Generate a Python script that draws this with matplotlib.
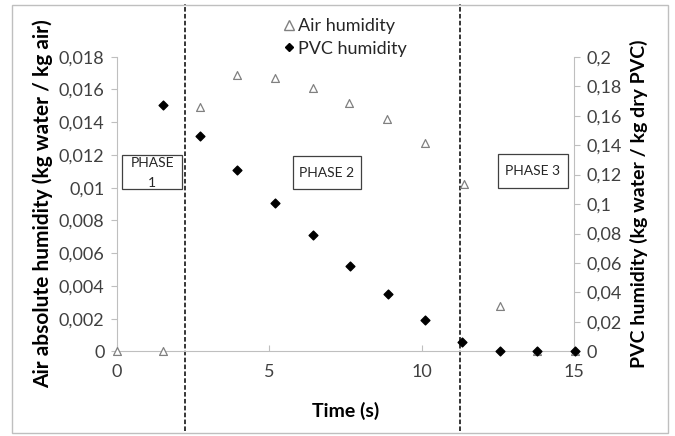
import matplotlib.pyplot as plt
from matplotlib.patches import Rectangle
from matplotlib.lines import Line2D

plt.rcParams['font.family'] = ['Lato', 'DejaVu Sans']

# data
time_air = [0, 1.5, 2.73, 3.94, 5.2, 6.42, 7.63, 8.87, 10.1, 11.38, 12.58, 13.8, 15.03]
air_hum = [0, 0, 0.0149, 0.0169, 0.0167, 0.0161, 0.0152, 0.0142, 0.0127, 0.0102, 0.0028, 0, 0]
time_pvc = [1.52, 2.73, 3.94, 5.2, 6.42, 7.66, 8.89, 10.1, 11.33, 12.58, 13.8, 15.03]
pvc_hum = [0.167, 0.146, 0.123, 0.101, 0.079, 0.058, 0.039, 0.021, 0.0066, 0, 0.0005, 0]
phase_limits = [2.24, 11.26]
left_ticks = [0, 0.002, 0.004, 0.006, 0.008, 0.01, 0.012, 0.014, 0.016, 0.018]
right_ticks = [0, 0.02, 0.04, 0.06, 0.08, 0.1, 0.12, 0.14, 0.16, 0.18, 0.2]
x_ticks = [0, 5, 10, 15]


def comma(v):
    return f"{v:g}".replace('.', ',')


fig = plt.figure(figsize=(6.75, 4.36), dpi=100)
ax = fig.add_axes([0.1733, 0.194, 0.677, 0.676])
ax2 = ax.twinx()

grey = '#bfbfbf'
txt = '#404040'

ax.scatter(time_air, air_hum, marker='^', s=32, facecolors='white',
           edgecolors='#808080', linewidths=0.9, clip_on=False, zorder=3)
ax2.scatter(time_pvc, pvc_hum, marker='D', s=20, color='black', clip_on=False, zorder=4)

ax.set_xlim(0, 15)
ax.set_ylim(0, 0.018)
ax2.set_ylim(0, 0.2)

ax.set_xticks(x_ticks)
ax.set_xticklabels([str(t) for t in x_ticks])
ax.set_yticks(left_ticks)
ax.set_yticklabels([comma(v) for v in left_ticks])
ax2.set_yticks(right_ticks)
ax2.set_yticklabels([comma(v) for v in right_ticks])

for a in (ax, ax2):
    for s in a.spines.values():
        s.set_color(grey)
    a.spines['top'].set_visible(False)
    a.tick_params(colors=grey, labelcolor=txt, labelsize=13, length=4, pad=5)
ax2.spines['left'].set_visible(False)
ax2.spines['bottom'].set_visible(False)
ax.spines['right'].set_visible(False)
ax.tick_params(axis='x', direction='in', pad=9)

ax.set_xlabel('Time (s)', fontsize=14, fontweight='bold', labelpad=16)
ax.set_ylabel('Air absolute humidity (kg water / kg air)', fontsize=15, fontweight='bold', labelpad=4)
ax2.set_ylabel('PVC humidity (kg water / kg dry PVC)', fontsize=14, fontweight='bold', labelpad=6)

# phase separators spanning the whole frame
for xl in phase_limits:
    ax.axvline(xl, ymin=-0.27, ymax=1.18, color='black', linestyle=(0, (3, 1.5)),
               linewidth=1.1, clip_on=False, zorder=2)

# phase boxes
box_kw = dict(fill=True, fc='white', ec='#404040', lw=0.9, zorder=5)
ax.add_patch(Rectangle((0.16, 0.00992), 1.97, 0.00208, **box_kw))
ax.add_patch(Rectangle((5.78, 0.00992), 2.23, 0.00201, **box_kw))
ax.add_patch(Rectangle((12.50, 0.00998), 2.30, 0.00208, **box_kw))
ax.text(1.15, 0.01150, 'PHASE', ha='center', va='center', fontsize=10, color='#262626', zorder=6)
ax.text(1.15, 0.01030, '1', ha='center', va='center', fontsize=10, color='#262626', zorder=6)
ax.text(6.88, 0.01092, 'PHASE 2', ha='center', va='center', fontsize=10, color='#262626', zorder=6)
ax.text(13.63, 0.01100, 'PHASE 3', ha='center', va='center', fontsize=10, color='#262626', zorder=6)

handles = [
    Line2D([], [], marker='^', linestyle='none', markersize=6.5, markerfacecolor='white',
           markeredgecolor='#808080', label='Air humidity'),
    Line2D([], [], marker='D', linestyle='none', markersize=4.5, color='black', label='PVC humidity'),
]
fig.legend(handles=handles, loc='upper left', bbox_to_anchor=(0.39, 0.995), frameon=False,
           fontsize=13, handletextpad=0.05, handlelength=1.0, labelspacing=0.35,
           labelcolor='#262626')

fig.patches.append(Rectangle((0.018, 0.008), 0.972, 0.98, transform=fig.transFigure,
                             fill=False, ec=grey, lw=1.0))

fig.savefig('out.png', dpi=100)
